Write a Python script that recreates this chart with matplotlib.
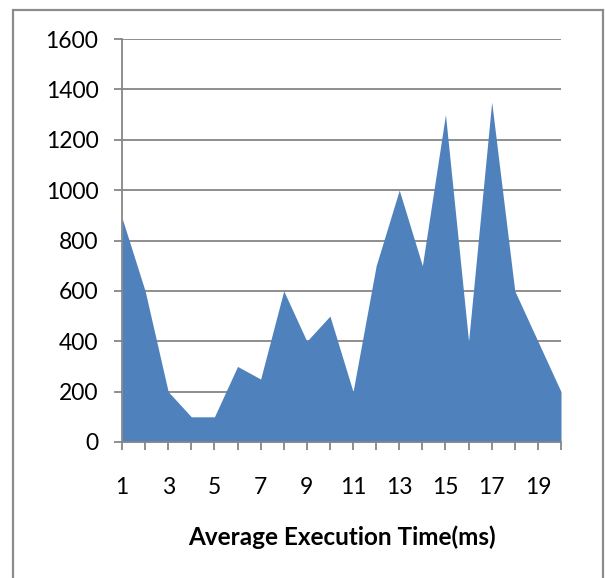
import matplotlib
matplotlib.use("Agg")
import matplotlib.pyplot as plt
from matplotlib.patches import Rectangle

# Execution-time distribution
x_values = list(range(1, 21))
counts = [890, 600, 200, 100, 100, 300, 250, 600, 400, 500,
          200, 700, 1000, 700, 1300, 400, 1350, 600, 400, 200]
y_ticks = [0, 200, 400, 600, 800, 1000, 1200, 1400, 1600]
x_tick_labels = [1, 3, 5, 7, 9, 11, 13, 15, 17, 19]
x_title = "Average Execution Time(ms)"

W, H = 605, 578
fig = plt.figure(figsize=(W / 100, H / 100), dpi=100)
plt.rcParams['font.family'] = ['Lato', 'DejaVu Sans']

grey = "#868686"
fill_col = "#4F81BD"

# outer chart frame
fig.patches.append(Rectangle((13 / W, -0.05), (603 - 13) / W, 1.05 - 10 / H,
                             transform=fig.transFigure, fill=False,
                             edgecolor="#8c8c8c", linewidth=1.6))

ax = fig.add_axes([122 / W, (H - 442) / H, (561 - 122) / W, (442 - 39) / H])
ax.fill_between(x_values, counts, 0, color=fill_col, linewidth=0, zorder=2)

ax.set_xlim(1, 20)
ax.set_ylim(0, 1600)
ax.set_yticks(y_ticks)
ax.set_xticks(x_values, minor=False)
ax.set_xticklabels([str(v) if v in x_tick_labels else "" for v in x_values])

for side in ("top", "right"):
    ax.spines[side].set_visible(False)
for side in ("left", "bottom"):
    ax.spines[side].set_color(grey)
    ax.spines[side].set_linewidth(1.3)
    ax.spines[side].set_zorder(3)

ax.yaxis.grid(True, color=grey, linewidth=1.3, zorder=1)
ax.set_axisbelow(True)
ax.tick_params(axis="both", direction="out", length=6, width=1.3, color=grey,
               labelsize=16.5, labelcolor="black")
ax.tick_params(axis="y", pad=11)
ax.tick_params(axis="x", pad=19)

ax.set_xlabel(x_title, fontsize=17.5, fontweight="bold", labelpad=20)

fig.savefig("out.png", dpi=100, facecolor="white")
